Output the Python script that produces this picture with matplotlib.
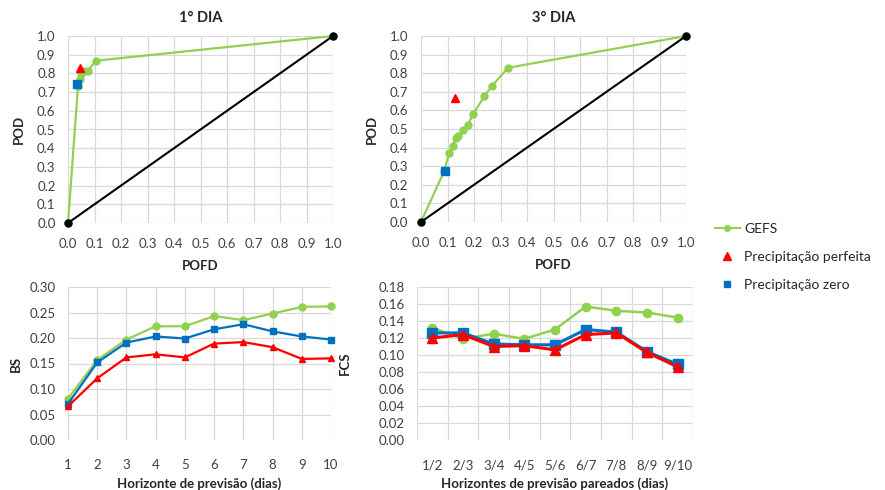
import matplotlib
matplotlib.use("Agg")
import matplotlib.pyplot as plt
from matplotlib.lines import Line2D

plt.rcParams['font.family'] = ['Lato', 'DejaVu Sans']

GREEN = '#92D050'
BLUE = '#0070C0'
RED = '#FF0000'
GRID = '#D9D9D9'

# ---- ROC data, day 1 ----
d1_gefs_pofd = [0.0, 0.038, 0.045, 0.050, 0.060, 0.075, 0.106, 1.0]
d1_gefs_pod = [0.0, 0.735, 0.770, 0.795, 0.812, 0.815, 0.868, 1.0]
d1_perf_pofd = [0.044]
d1_perf_pod = [0.827]
d1_zero_pofd = [0.034]
d1_zero_pod = [0.743]

# ---- ROC data, day 3 ----
d3_gefs_pofd = [0.0, 0.087, 0.107, 0.119, 0.132, 0.141, 0.157, 0.176, 0.197, 0.239, 0.268, 0.328, 1.0]
d3_gefs_pod = [0.0, 0.272, 0.373, 0.409, 0.449, 0.461, 0.494, 0.521, 0.580, 0.677, 0.731, 0.829, 1.0]
d3_perf_pofd = [0.128]
d3_perf_pod = [0.664]
d3_zero_pofd = [0.089]
d3_zero_pod = [0.273]

diag = [0.0, 1.0]

# ---- BS ----
bs_days = [1, 2, 3, 4, 5, 6, 7, 8, 9, 10]
bs_gefs = [0.081, 0.157, 0.197, 0.223, 0.223, 0.243, 0.235, 0.248, 0.261, 0.262]
bs_zero = [0.071, 0.152, 0.191, 0.203, 0.199, 0.217, 0.227, 0.213, 0.203, 0.197]
bs_perf = [0.066, 0.121, 0.162, 0.168, 0.162, 0.189, 0.192, 0.182, 0.159, 0.160]

# ---- FCS ----
fcs_labels = ['1/2', '2/3', '3/4', '4/5', '5/6', '6/7', '7/8', '8/9', '9/10']
fcs_gefs = [0.132, 0.119, 0.125, 0.119, 0.130, 0.157, 0.152, 0.150, 0.144]
fcs_zero = [0.126, 0.126, 0.113, 0.112, 0.112, 0.130, 0.127, 0.104, 0.089]
fcs_perf = [0.120, 0.124, 0.110, 0.111, 0.106, 0.124, 0.126, 0.103, 0.086]

fig = plt.figure(figsize=(8.85, 4.9), dpi=100)
W, H = 885, 490
TICK_FS = 9.5
LAB_FS = 9.5
TXT = '#262626'


def add_ax(l, r, t, b):
    return fig.add_axes([l / W, (H - b) / H, (r - l) / W, (b - t) / H])


def style(ax):
    ax.grid(True, color=GRID, linewidth=0.9)
    ax.set_axisbelow(True)
    for s in ax.spines.values():
        s.set_visible(False)
    ax.tick_params(length=0, labelsize=TICK_FS, colors='#404040')


def roc(ax, gx, gy, px, py, zx, zy, title):
    style(ax)
    ax.plot(gx, gy, color=GREEN, linewidth=1.6, marker='o', markersize=5, zorder=4, clip_on=False)
    ax.plot(diag, diag, color='black', linewidth=1.5, marker='o', markersize=5, zorder=5, clip_on=False)
    ax.plot(px, py, linestyle='none', marker='^', color=RED, markersize=6, zorder=6)
    ax.plot(zx, zy, linestyle='none', marker='s', color=BLUE, markersize=6, zorder=6)
    ax.set_xlim(0, 1)
    ax.set_ylim(0, 1)
    ticks = [i / 10 for i in range(11)]
    ax.set_xticks(ticks)
    ax.set_yticks(ticks)
    ax.set_xticklabels([f'{t:.1f}' for t in ticks])
    ax.set_yticklabels([f'{t:.1f}' for t in ticks])
    ax.tick_params(axis='x', pad=11)
    ax.tick_params(axis='y', pad=9)
    ax.set_title(title, fontsize=10.5, fontweight='bold', pad=10, color=TXT)
    ax.set_xlabel('POFD', fontsize=LAB_FS, fontweight='bold', labelpad=7, color=TXT)
    ax.set_ylabel('POD', fontsize=LAB_FS, fontweight='bold', labelpad=9, color=TXT)


ax1 = add_ax(68, 333, 36, 223)
roc(ax1, d1_gefs_pofd, d1_gefs_pod, d1_perf_pofd, d1_perf_pod, d1_zero_pofd, d1_zero_pod, '1° DIA')

ax2 = add_ax(421, 686, 36, 222)
roc(ax2, d3_gefs_pofd, d3_gefs_pod, d3_perf_pofd, d3_perf_pod, d3_zero_pofd, d3_zero_pod, '3° DIA')

# BS
ax3 = add_ax(68, 331, 287, 440)
style(ax3)
ax3.plot(bs_days, bs_gefs, color=GREEN, linewidth=1.6, marker='o', markersize=5, zorder=3, clip_on=False)
ax3.plot(bs_days, bs_zero, color=BLUE, linewidth=1.6, marker='s', markersize=5, zorder=4, clip_on=False)
ax3.plot(bs_days, bs_perf, color=RED, linewidth=1.6, marker='^', markersize=5, zorder=5, clip_on=False)
ax3.set_xlim(1, 10)
ax3.set_ylim(0, 0.30)
ax3.set_xticks(bs_days)
ax3.set_yticks([i * 0.05 for i in range(7)])
ax3.set_yticklabels([f'{i * 0.05:.2f}' for i in range(7)])
ax3.tick_params(axis='x', pad=14)
ax3.tick_params(axis='y', pad=9)
ax3.set_xlabel('Horizonte de previsão (dias)', fontsize=LAB_FS, fontweight='bold', labelpad=4, color=TXT)
ax3.set_ylabel('BS', fontsize=LAB_FS, fontweight='bold', labelpad=5, color=TXT)

# FCS
ax4 = add_ax(417, 693, 287, 440)
style(ax4)
xs = list(range(len(fcs_labels)))
ax4.plot(xs, fcs_gefs, color=GREEN, linewidth=1.8, marker='o', markersize=6, zorder=3)
ax4.plot(xs, fcs_zero, color=BLUE, linewidth=2.2, marker='s', markersize=6.5, zorder=4)
ax4.plot(xs, fcs_perf, color=RED, linewidth=2.2, marker='^', markersize=7, zorder=5)
ax4.set_xlim(-0.5, len(fcs_labels) - 0.5)
ax4.set_ylim(0, 0.18)
ax4.set_xticks([i + 0.5 for i in range(-1, len(fcs_labels))], minor=False)
ax4.set_xticklabels([''] * (len(fcs_labels) + 1))
ax4.set_xticks(xs, minor=True)
ax4.set_xticklabels(fcs_labels, minor=True)
ax4.tick_params(axis='x', which='both', length=0, pad=14, labelsize=TICK_FS, colors='#404040')
ax4.set_yticks([i * 0.02 for i in range(10)])
ax4.set_yticklabels([f'{i * 0.02:.2f}' for i in range(10)])
ax4.tick_params(axis='y', pad=9)
ax4.set_xlabel('Horizontes de previsão pareados (dias)', fontsize=LAB_FS, fontweight='bold', labelpad=4, color=TXT)
ax4.set_ylabel('FCS', fontsize=LAB_FS, fontweight='bold', labelpad=20, color=TXT)

# Legend
handles = [
    Line2D([0], [0], color=GREEN, linewidth=1.6, marker='o', markersize=4),
    Line2D([0], [0], color=RED, linestyle='none', marker='^', markersize=6),
    Line2D([0], [0], color=BLUE, linestyle='none', marker='s', markersize=5),
]
fig.legend(handles, ['GEFS', 'Precipitação perfeita', 'Precipitação zero'],
           loc='upper left', bbox_to_anchor=(705 / W, (H - 213) / H),
           frameon=False, fontsize=10, labelspacing=1.15, handlelength=1.8,
           handletextpad=0.3, labelcolor=TXT, borderpad=0.2)

fig.savefig('out.png', dpi=100)
